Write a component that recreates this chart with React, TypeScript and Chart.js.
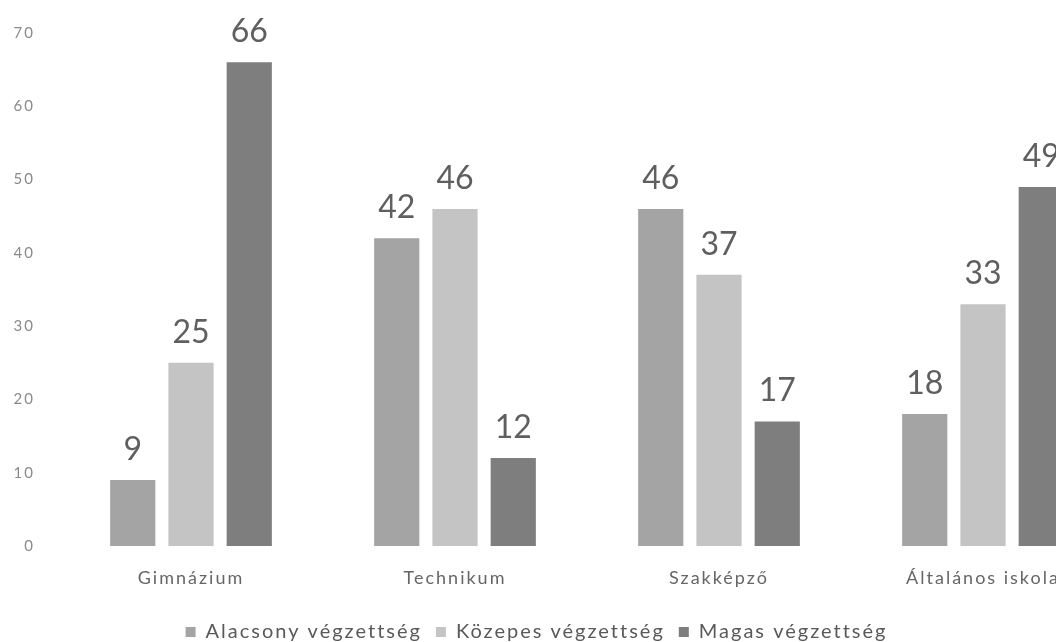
import React, { useEffect, useRef } from "react";
import { Chart, registerables } from "chart.js";

Chart.register(...registerables);

const categories = ["Gimnázium", "Technikum", "Szakképző", "Általános iskola"];
const seriesNames = ["Alacsony végzettség", "Közepes végzettség", "Magas végzettség"];
const alacsony = [9, 42, 46, 18];
const kozepes = [25, 46, 37, 33];
const magas = [66, 12, 17, 49];
const colors = ["#a4a4a4", "#c4c4c4", "#7e7e7e"];
const yTicks = [0, 10, 20, 30, 40, 50, 60, 70];

const FONT = "Lato, 'Open Sans', sans-serif";

const spacing = {
  id: "spacing",
  beforeUpdate(chart: any) {
    chart.ctx.letterSpacing = "2px";
  },
  beforeDraw(chart: any) {
    chart.ctx.letterSpacing = "2px";
  },
};

const valueLabels = {
  id: "valueLabels",
  afterDatasetsDraw(chart: any) {
    const ctx = chart.ctx;
    ctx.save();
    ctx.letterSpacing = "0px";
    ctx.font = `32px ${FONT}`;
    ctx.fillStyle = "#5f5f5f";
    ctx.textAlign = "center";
    ctx.textBaseline = "alphabetic";
    chart.data.datasets.forEach((ds: any, i: number) => {
      const meta = chart.getDatasetMeta(i);
      meta.data.forEach((el: any, j: number) => {
        ctx.fillText(String(ds.data[j]), el.x, el.y - 20);
      });
    });
    ctx.restore();
  },
};

const legendShift = {
  id: "legendShift",
  afterLayout(chart: any) {
    const lg = chart.legend;
    if (lg) {
      lg.left -= 21;
      lg.right -= 21;
      lg.top += 10;
      lg.bottom += 10;
    }
  },
};

export default function App() {
  const ref = useRef<HTMLCanvasElement>(null);
  useEffect(() => {
    if (!ref.current) return;
    const chart = new Chart(ref.current, {
      type: "bar",
      data: {
        labels: categories,
        datasets: [alacsony, kozepes, magas].map((d, i) => ({
          label: seriesNames[i],
          data: d,
          backgroundColor: colors[i],
          borderWidth: 0,
          categoryPercentage: 0.662,
          barPercentage: 0.776,
        })),
      },
      options: {
        responsive: false,
        animation: false,
        layout: { padding: { top: 26, bottom: 0, left: 0, right: 0 } },
        plugins: {
          tooltip: { enabled: false },
          legend: {
            position: "bottom",
            labels: {
              font: { family: FONT, size: 20 },
              color: "#595959",
              boxWidth: 10,
              boxHeight: 10,
              padding: 14,
            },
          },
        },
        scales: {
          x: {
            afterFit: (axis: any) => {
              axis.height = 52;
            },
            grid: { display: false, drawTicks: false },
            border: { display: false },
            ticks: {
              font: { family: FONT, size: 18 },
              color: "#666666",
              padding: 21,
            },
          },
          y: {
            min: 0,
            max: 70,
            afterFit: (axis: any) => {
              axis.width = 59;
            },
            afterBuildTicks: (axis: any) => {
              axis.ticks = yTicks.map((v) => ({ value: v }));
            },
            grid: { display: false, drawTicks: false },
            border: { display: false },
            ticks: {
              font: { family: FONT, size: 15 },
              color: "#8a8a8a",
              padding: 24,
            },
          },
        },
      },
      plugins: [spacing, valueLabels, legendShift],
    });
    return () => chart.destroy();
  }, []);
  return (
    <div
      style={{
        position: "fixed",
        left: 0,
        top: 0,
        width: 1056,
        height: 642,
        overflow: "hidden",
        background: "#ffffff",
      }}
    >
      <canvas ref={ref} width={1115} height={642} style={{ display: "block" }} />
    </div>
  );
}
